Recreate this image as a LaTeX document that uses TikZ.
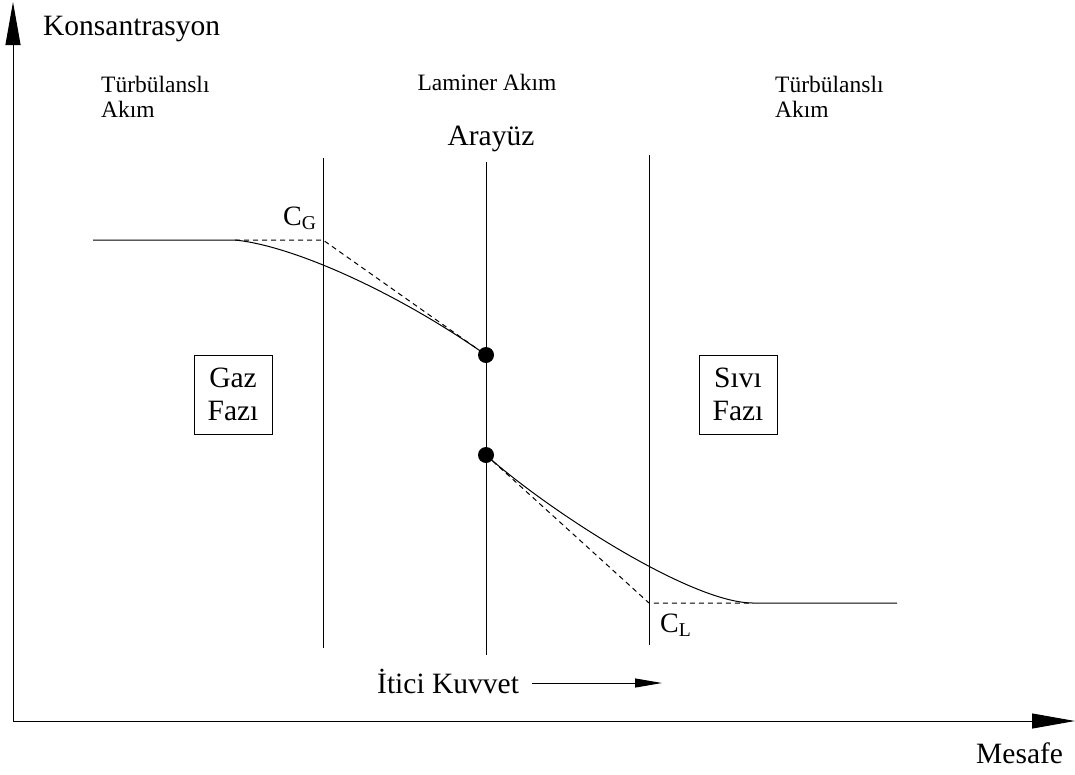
\documentclass[tikz,border=0pt]{standalone}
\usepackage{fontspec}
\setmainfont{Liberation Serif}
\usetikzlibrary{arrows.meta}
\newcommand\lgfont{\fontsize{29.5}{33}\selectfont}
\newcommand\smfont{\fontsize{23.5}{25}\selectfont}
\newcommand\cfont{\fontsize{28}{30}\selectfont}

\begin{document}
\begin{tikzpicture}[x=1pt, y=-1pt,
  axis/.style={line width=1pt, -{Triangle[length=43pt,width=15pt]}},
  force/.style={line width=1pt, -{Triangle[length=27pt,width=9pt]}},
  wall/.style={line width=1pt},
  profile/.style={line width=1pt},
  tangent/.style={line width=1pt, dash pattern=on 5pt off 4pt},
  phase/.style={draw, line width=1pt, minimum width=78pt, minimum height=79pt,
    align=center, inner sep=0pt, font=\lgfont},
  label/.style={inner sep=0pt}
]
\useasboundingbox (0,0) rectangle (1075,774);

% axes
\coordinate (o) at (13,721);
\coordinate (ytip) at (13,2);
\coordinate (xtip) at (1075,721);
\draw[axis] (o) -- (ytip);
\draw[axis] (o) -- (xtip);
\node[label, anchor=base west, font=\lgfont] (conc) at (43,35) {Konsantrasyon};
\node[label, anchor=base west, font=\lgfont] (dist) at (976,763) {Mesafe};

% regions
\node[label, anchor=north west, align=left, font=\smfont] (turbg) at (101,76) {Türbülanslı\\Akım};
\node[label, anchor=base, font=\smfont] (lam) at (487,90) {Laminer Akım};
\node[label, anchor=north west, align=left, font=\smfont] (turbl) at (775,76) {Türbülanslı\\Akım};
\node[label, anchor=base, font=\lgfont] (iface) at (491,145) {Arayüz};

% film walls and interface
\coordinate (gtop) at (323,158);
\coordinate (gbot) at (323,648);
\coordinate (itop) at (486,162);
\coordinate (ibot) at (486,655);
\coordinate (ltop) at (649,155);
\coordinate (lbot) at (649,645);
\draw[wall] (gtop) -- (gbot);
\draw[wall] (itop) -- (ibot);
\draw[wall] (ltop) -- (lbot);

% gas side profile
\coordinate (gs) at (93,240);
\coordinate (gb) at (235,240);
\coordinate (cg) at (323,240);
\coordinate (ig) at (486,355);
\draw[profile] (gs) -- (gb) .. controls (295,246) and (400,294.3) .. (ig);
\draw[tangent] (gb) -- (cg) -- (ig);
\fill (ig) circle[radius=8pt];
\node[label, anchor=base west, font=\cfont] (cgl) at (283,225) {C\textsubscript{G}};

% liquid side profile
\coordinate (il) at (486,455);
\coordinate (cl) at (649,603);
\coordinate (lb) at (753,603);
\coordinate (ls) at (897,603);
\draw[profile] (il) .. controls (545,508) and (690,603) .. (lb) -- (ls);
\draw[tangent] (il) -- (cl) -- (lb);
\fill (il) circle[radius=8pt];
\node[label, anchor=base west, font=\cfont] (cll) at (660,632) {C\textsubscript{L}};

% phases
\node[phase] (gas) at (233,394.5) {Gaz\\Fazı};
\node[phase] (liq) at (738,394.5) {Sıvı\\Fazı};

% driving force
\node[label, anchor=base west, font=\lgfont] (drive) at (377,693) {İtici Kuvvet};
\coordinate (fs) at (532,683);
\coordinate (fe) at (662,683);
\draw[force] (fs) -- (fe);
\end{tikzpicture}
\end{document}
